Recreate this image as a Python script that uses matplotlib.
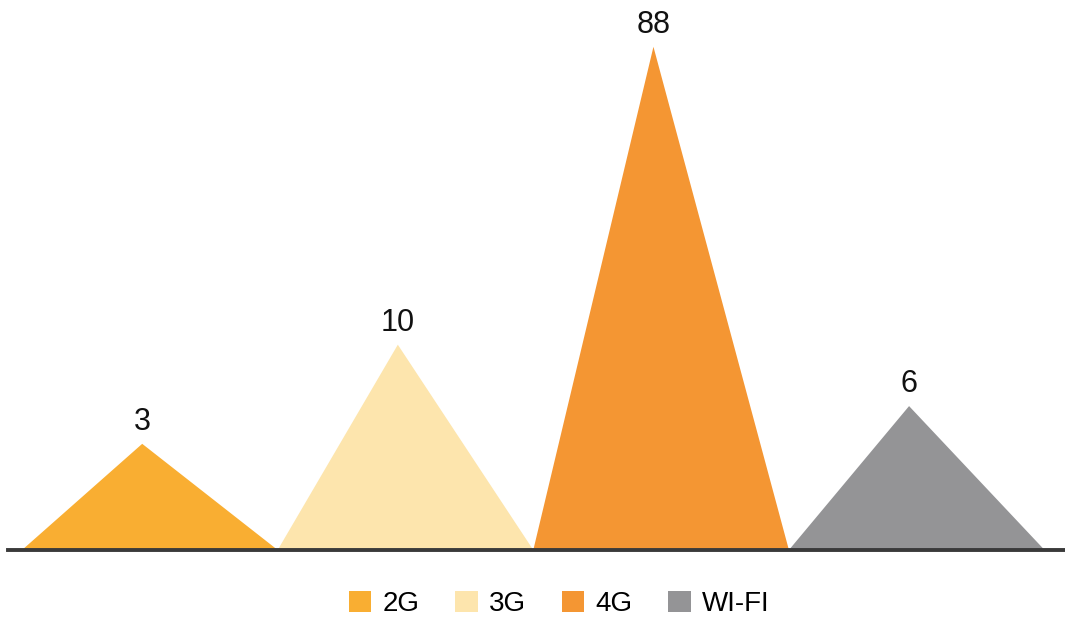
import matplotlib
matplotlib.use("Agg")
import matplotlib.pyplot as plt
from matplotlib.patches import Patch

plt.rcParams['font.family'] = ['Liberation Sans', 'DejaVu Sans']

categories = ["2G", "3G", "4G", "WI-FI"]
values = [3, 10, 88, 6]                 # labelled values
peak_heights = [21.1, 40.8, 100.0, 28.6]  # drawn peak heights (relative)
colors = ["#F9AE32", "#FDE5AD", "#F49633", "#949496"]

fig = plt.figure(figsize=(10.65, 6.19), dpi=100)
ax = fig.add_axes([8 / 1065, 1 - 550 / 619, 1 - 8 / 1065, 550 / 619])

half = 0.5
shift = -0.03
for i, (h, v, c) in enumerate(zip(peak_heights, values, colors)):
    ax.fill([i - half, i + shift, i + half], [0, h, 0], color=c, lw=0, zorder=2)
    ax.annotate(str(v), xy=(i + shift, h), xytext=(0, 5), textcoords="offset points",
                ha="center", va="bottom", fontsize=22, color="#111111")

ax.axhline(0, color="#3a3a3a", lw=2.8, zorder=3, clip_on=False)
ax.set_xlim(-0.555, 3.58)
ax.set_ylim(0, 109.3)
ax.axis("off")

handles = [Patch(facecolor=c, edgecolor="none") for c in colors]
fig.legend(handles, categories, loc="center", bbox_to_anchor=(0.525, 1 - 604 / 619),
           ncol=4, frameon=False, fontsize=20, handlelength=0.8, handleheight=0.8,
           handletextpad=0.4, columnspacing=1.3)

fig.savefig("out.png", dpi=100)
